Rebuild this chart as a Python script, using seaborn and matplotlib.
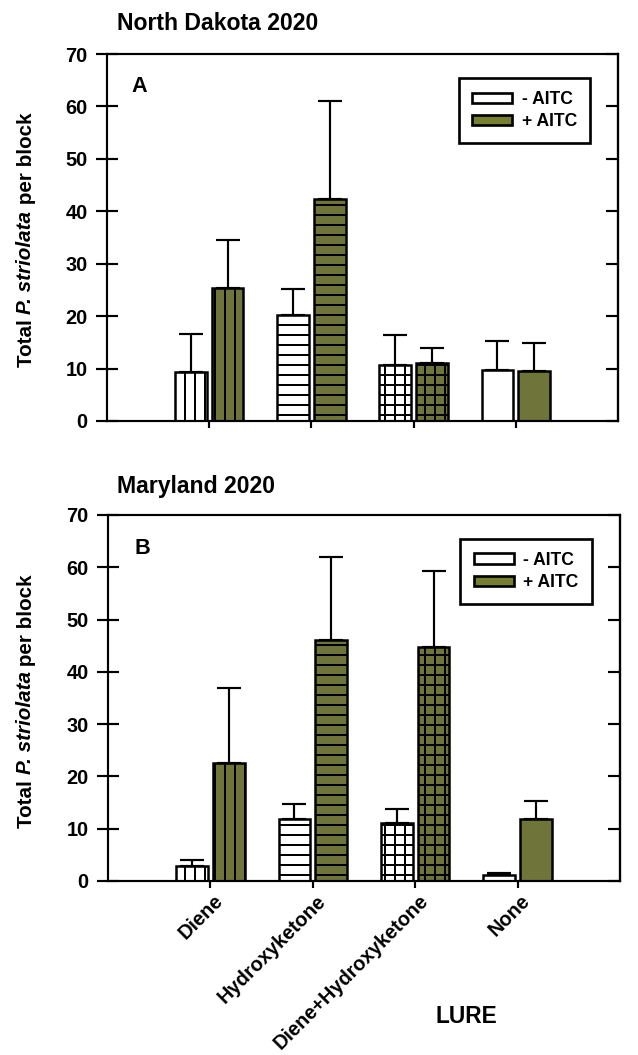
import numpy as np
import pandas as pd
import matplotlib
matplotlib.use("Agg")
import matplotlib.pyplot as plt
from matplotlib.patches import Patch
import matplotlib.transforms as mtransforms
import seaborn as sns

# ---------------- data ----------------
lures = ["Diene", "Hydroxyketone", "Diene+Hydroxyketone", "None"]
treatments = ["- AITC", "+ AITC"]

nd_minus = [9.4, 20.2, 10.7, 9.7]
nd_minus_se = [7.1, 5.0, 5.7, 5.6]
nd_plus = [25.4, 42.4, 11.1, 9.5]
nd_plus_se = [9.1, 18.6, 2.8, 5.3]

md_minus = [2.9, 11.9, 11.0, 1.15]
md_minus_se = [1.2, 2.8, 2.8, 0.45]
md_plus = [22.5, 46.1, 44.8, 11.9]
md_plus_se = [14.5, 15.9, 14.5, 3.4]

panel_titles = ["North Dakota 2020", "Maryland 2020"]
panel_letters = ["A", "B"]
y_ticks = [0, 10, 20, 30, 40, 50, 60, 70]
ylabel_parts = [("Total ", "normal"), ("P. striolata", "italic"), (" per block", "normal")]
xlabel_text = "LURE"

# ---------------- style ----------------
sns.set_style("white")
plt.rcParams["font.family"] = ["Liberation Sans", "DejaVu Sans"]
plt.rcParams["font.weight"] = "bold"
plt.rcParams["hatch.linewidth"] = 1.2
for key in ["text.color", "axes.labelcolor", "xtick.color", "ytick.color",
            "axes.edgecolor", "hatch.color"]:
    plt.rcParams[key] = "black"

olive = "#767E30"
palette = {"- AITC": "white", "+ AITC": olive}
hatches = ["||", "--", "++", ""]

DPI = 120
W, H = 638, 1055
fig = plt.figure(figsize=(W / DPI, H / DPI), dpi=DPI)

axA = fig.add_axes([107 / W, 1 - 421 / H, 511 / W, 367 / H])
axB = fig.add_axes([108 / W, 1 - 881 / H, 512 / W, 366 / H])

panels = [
    (axA, nd_minus, nd_minus_se, nd_plus, nd_plus_se),
    (axB, md_minus, md_minus_se, md_plus, md_plus_se),
]

for i, (ax, mvals, mse, pvals, pse) in enumerate(panels):
    df = pd.DataFrame({
        "lure": lures * 2,
        "aitc": [treatments[0]] * 4 + [treatments[1]] * 4,
        "value": mvals + pvals,
        "se": mse + pse,
    })
    sns.barplot(data=df, x="lure", y="value", hue="aitc", order=lures,
                hue_order=treatments, palette=palette, width=0.72, gap=0.14,
                errorbar=None, edgecolor="black", linewidth=1.5,
                legend=False, ax=ax, zorder=2)
    for p in ax.patches:
        cx = p.get_x() + p.get_width() / 2
        cat = int(round(cx))
        h_idx = 0 if cx < cat else 1
        p.set_hatch(hatches[cat])
        err = (mse if h_idx == 0 else pse)[cat]
        ax.errorbar(cx, p.get_height(), yerr=[[0], [err]], fmt="none",
                    ecolor="black", elinewidth=1.3, capsize=7, capthick=1.3,
                    zorder=3)

    ax.set_xlim(-1, 4)
    ax.set_ylim(0, 70)
    ax.set_yticks(y_ticks)
    ax.set_xlabel("")
    ax.set_ylabel("")
    for s in ax.spines.values():
        s.set_linewidth(1.3)
        s.set_color("black")
        s.set_visible(True)
    ax.tick_params(axis="y", direction="inout", length=13, width=1.3,
                   labelsize=12, pad=5.0, left=True, right=False,
                   colors="black")
    ax.tick_params(axis="x", direction="out", length=4, width=1.3,
                   bottom=True, top=False, labelsize=12, colors="black")
    for lab in ax.get_yticklabels():
        lab.set_fontweight("bold")
    sec = ax.secondary_yaxis("right")
    sec.set_yticks(y_ticks)
    sec.tick_params(direction="in", length=7, width=1.3, labelright=False,
                    colors="black")
    sec.spines["right"].set_linewidth(1.3)
    sec.spines["right"].set_color("black")

    handles = [Patch(facecolor="white", edgecolor="black", linewidth=1.6, label=treatments[0]),
               Patch(facecolor=olive, edgecolor="black", linewidth=1.6, label=treatments[1])]
    leg = ax.legend(handles=handles, loc="upper right", bbox_to_anchor=(0.945, 0.935),
                    borderaxespad=0, frameon=True, fancybox=False, framealpha=1,
                    edgecolor="black", handlelength=2.3, handleheight=0.55,
                    labelspacing=0.3, borderpad=0.75, handletextpad=0.55,
                    prop={"weight": "bold", "size": 10.5})
    leg.get_frame().set_linewidth(1.6)

axA.tick_params(axis="x", labelbottom=False)
axB.set_xticks(range(len(lures)))
axB.set_xticklabels(lures, rotation=45, ha="right", rotation_mode="anchor",
                    fontweight="bold", fontsize=12)
shift = mtransforms.ScaledTranslation(3 / DPI, 2 / DPI, fig.dpi_scale_trans)
for lab in axB.get_xticklabels():
    lab.set_transform(lab.get_transform() + shift)

axA.text(0.048, 0.8965, panel_letters[0], transform=axA.transAxes, ha="left",
         va="baseline", fontsize=13, fontweight="bold")
axB.text(0.052, 0.893, panel_letters[1], transform=axB.transAxes, ha="left",
         va="baseline", fontsize=13, fontweight="bold")

fig.text(117 / W, 1 - 30 / H, panel_titles[0], ha="left", va="baseline",
         fontsize=13.8, fontweight="bold")
fig.text(117 / W, 1 - 493 / H, panel_titles[1], ha="left", va="baseline",
         fontsize=13.8, fontweight="bold")

# multi-style rotated y labels, pieces placed end to end
renderer = fig.canvas.get_renderer()


def rotated_label(x_px, yc_px):
    pieces = []
    y = 0.0
    for txt, style in ylabel_parts:
        t = fig.text(x_px / W, 0, txt, ha="center", va="bottom", rotation=90,
                     fontsize=12.4, fontweight="bold", fontstyle=style)
        ext = t.get_window_extent(renderer)
        pieces.append((t, y))
        y += ext.height
    total = y
    start = (H - yc_px) - total / 2
    for t, off in pieces:
        t.set_y((start + off) / H)


rotated_label(26, 240)
rotated_label(26, 701)

fig.text(466 / W, 1 - 1023 / H, xlabel_text, ha="center", va="baseline",
         fontsize=13.6, fontweight="bold")

fig.savefig("out.png", dpi=DPI)
